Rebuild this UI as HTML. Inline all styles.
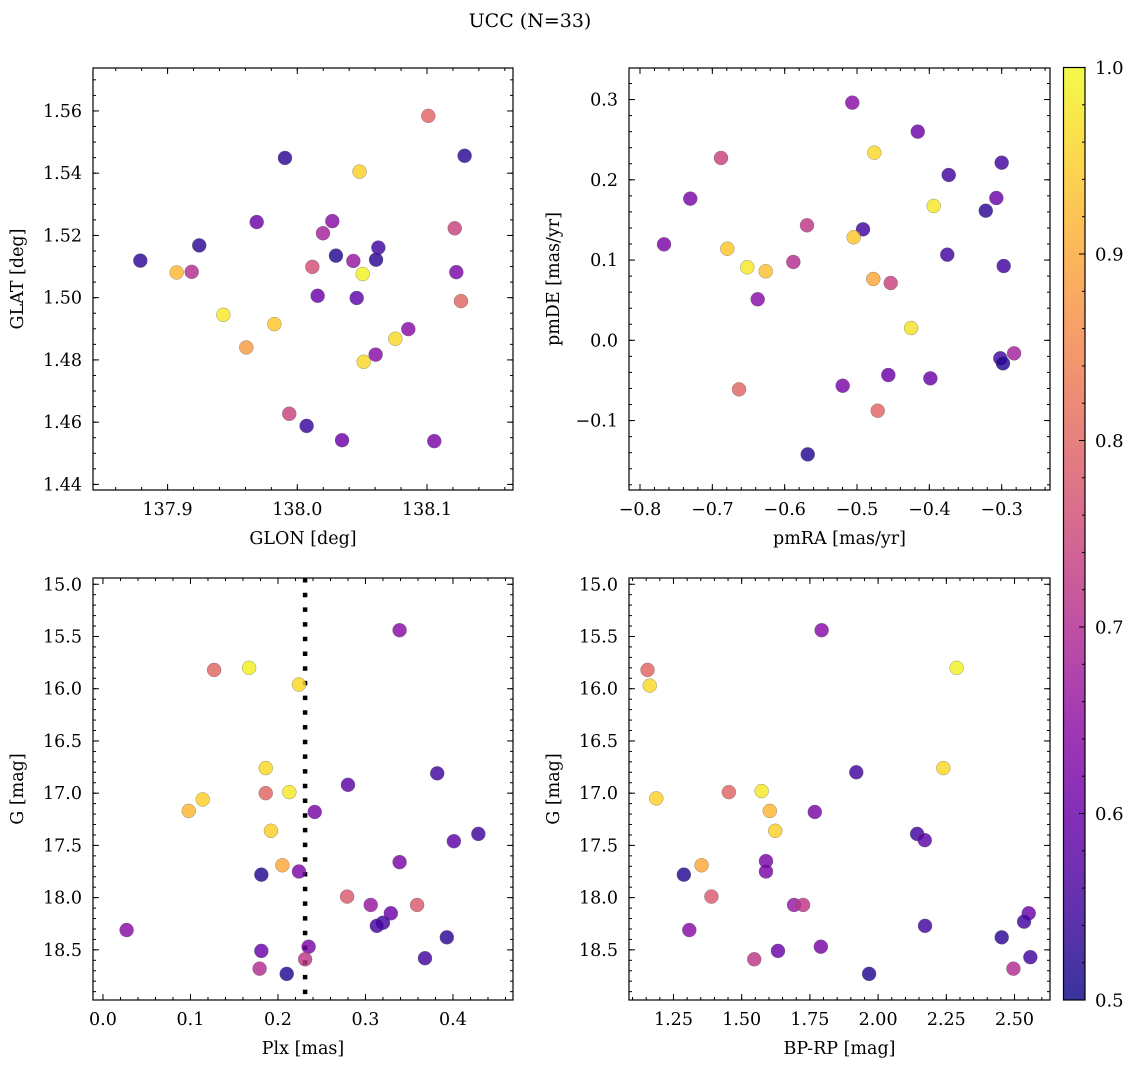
<!DOCTYPE html>
<html>
<head>
<meta charset="utf-8">
<style>
html,body{margin:0;padding:0;background:#fff;}
svg{display:block;font-family:"DejaVu Serif","Liberation Serif",serif;}
</style>
</head>
<body>
<svg id="fig" width="1135" height="1067" viewBox="0 0 1135 1067" xmlns="http://www.w3.org/2000/svg">
<defs>
<linearGradient id="plasma" x1="0" y1="1" x2="0" y2="0">
<stop offset="0" stop-color="#0d0887"/><stop offset="0.1" stop-color="#41049d"/>
<stop offset="0.2" stop-color="#6a00a8"/><stop offset="0.3" stop-color="#8f0da4"/>
<stop offset="0.4" stop-color="#b12a90"/><stop offset="0.5" stop-color="#cc4778"/>
<stop offset="0.6" stop-color="#e16462"/><stop offset="0.7" stop-color="#f2844b"/>
<stop offset="0.8" stop-color="#fca636"/><stop offset="0.9" stop-color="#fcce25"/>
<stop offset="1" stop-color="#f0f921"/>
</linearGradient>
</defs>
<text x="530" y="27" font-size="19" text-anchor="middle">UCC (N=33)</text>
</svg>
<script>
// Panel 1: GLON / GLAT
const glon = [138.101,138.129,137.9905,138.048,137.9687,138.027,138.0198,138.1214,137.9244,138.0625,137.879,138.0298,138.0432,138.0607,138.0116,137.907,137.9186,138.0504,138.1226,138.0157,138.0458,138.1262,137.943,137.9823,138.0856,138.0756,137.9607,138.0604,138.0512,137.9938,138.0072,138.0345,138.1056];
const glat = [1.5584,1.5456,1.5449,1.5405,1.5243,1.5246,1.5207,1.5223,1.5168,1.5161,1.5119,1.5135,1.5118,1.5122,1.5099,1.5081,1.5083,1.5076,1.5082,1.5006,1.4999,1.4989,1.4945,1.4915,1.4899,1.4868,1.4840,1.4817,1.4794,1.4627,1.4588,1.4542,1.4539];
const prob1 = [0.8,0.53,0.53,0.95,0.6,0.64,0.68,0.74,0.53,0.55,0.53,0.52,0.66,0.53,0.76,0.92,0.7,0.99,0.62,0.6,0.58,0.8,0.98,0.94,0.64,0.96,0.88,0.64,0.96,0.74,0.54,0.6,0.62];
// Panel 2: pmRA / pmDE
const pmra = [-0.5065,-0.416,-0.688,-0.4761,-0.3,-0.3732,-0.7305,-0.3074,-0.394,-0.322,-0.5691,-0.4917,-0.5046,-0.7668,-0.6793,-0.3752,-0.2972,-0.588,-0.6517,-0.6262,-0.4775,-0.4534,-0.6373,-0.4253,-0.2829,-0.3019,-0.2982,-0.4567,-0.3986,-0.5198,-0.6631,-0.4714,-0.5681];
const pmde = [0.2961,0.26,0.2272,0.2338,0.2213,0.206,0.1765,0.1773,0.1674,0.1615,0.1433,0.1383,0.1284,0.1196,0.1141,0.1067,0.0926,0.0976,0.091,0.086,0.0764,0.0714,0.0511,0.0153,-0.0162,-0.0224,-0.0287,-0.0432,-0.0474,-0.0566,-0.0611,-0.0877,-0.1421];
const prob2 = [0.64,0.6,0.74,0.96,0.55,0.55,0.62,0.6,0.98,0.53,0.72,0.55,0.94,0.62,0.94,0.55,0.55,0.7,0.98,0.93,0.9,0.74,0.64,0.97,0.68,0.55,0.52,0.6,0.6,0.62,0.8,0.8,0.52];
// Panel 3: Plx / G
const plx = [0.339,0.127,0.167,0.224,0.186,0.382,0.280,0.186,0.213,0.114,0.098,0.242,0.192,0.429,0.401,0.339,0.205,0.224,0.181,0.279,0.306,0.359,0.329,0.320,0.313,0.027,0.393,0.235,0.181,0.231,0.368,0.179,0.210];
const g3 = [15.44,15.82,15.80,15.96,16.76,16.81,16.92,17.00,16.99,17.06,17.17,17.18,17.36,17.39,17.46,17.66,17.69,17.75,17.78,17.99,18.07,18.07,18.15,18.24,18.27,18.31,18.38,18.47,18.51,18.59,18.58,18.68,18.73];
const prob3 = [0.64,0.8,0.99,0.96,0.96,0.55,0.58,0.8,0.98,0.95,0.92,0.62,0.95,0.55,0.58,0.62,0.9,0.62,0.52,0.78,0.66,0.78,0.6,0.55,0.55,0.64,0.53,0.62,0.6,0.72,0.55,0.7,0.52];
const plxLine = 0.231;
// Panel 4: BP-RP / G
const bprp = [1.793,1.155,2.288,1.163,2.239,1.920,1.573,1.453,1.187,1.603,1.768,1.623,2.143,2.171,1.589,1.353,1.589,1.288,1.389,1.692,1.725,2.552,2.535,2.172,1.308,2.453,1.790,1.633,1.546,2.558,2.496,1.967];
const g4 = [15.44,15.82,15.80,15.97,16.76,16.80,16.98,16.99,17.05,17.17,17.18,17.36,17.39,17.45,17.65,17.69,17.75,17.78,17.99,18.07,18.07,18.15,18.23,18.27,18.31,18.38,18.47,18.51,18.59,18.57,18.68,18.73];
const prob4 = [0.64,0.8,0.99,0.96,0.96,0.55,0.98,0.8,0.95,0.92,0.62,0.95,0.55,0.58,0.62,0.9,0.62,0.52,0.78,0.66,0.72,0.6,0.55,0.55,0.64,0.53,0.62,0.6,0.72,0.55,0.7,0.52];
// Tick labels
const ticks1x = [137.9,138.0,138.1], ticks1xL = ["137.9","138.0","138.1"];
const ticks1y = [1.44,1.46,1.48,1.50,1.52,1.54,1.56], ticks1yL = ["1.44","1.46","1.48","1.50","1.52","1.54","1.56"];
const ticks2x = [-0.8,-0.7,-0.6,-0.5,-0.4,-0.3], ticks2xL = ["\u22120.8","\u22120.7","\u22120.6","\u22120.5","\u22120.4","\u22120.3"];
const ticks2y = [-0.1,0.0,0.1,0.2,0.3], ticks2yL = ["\u22120.1","0.0","0.1","0.2","0.3"];
const ticks3x = [0.0,0.1,0.2,0.3,0.4], ticks3xL = ["0.0","0.1","0.2","0.3","0.4"];
const ticksGy = [15.0,15.5,16.0,16.5,17.0,17.5,18.0,18.5], ticksGyL = ["15.0","15.5","16.0","16.5","17.0","17.5","18.0","18.5"];
const ticks4x = [1.25,1.5,1.75,2.0,2.25,2.5], ticks4xL = ["1.25","1.50","1.75","2.00","2.25","2.50"];
const ticksC = [0.5,0.6,0.7,0.8,0.9,1.0], ticksCL = ["0.5","0.6","0.7","0.8","0.9","1.0"];

const NS = "http://www.w3.org/2000/svg";
const svg = document.getElementById("fig");
function mk(tag, attrs, parent){
  const e = document.createElementNS(NS, tag);
  for (const k in attrs) e.setAttribute(k, attrs[k]);
  (parent||svg).appendChild(e);
  return e;
}
const stops = [[13,8,135],[65,4,157],[106,0,168],[143,13,164],[177,42,144],[204,71,120],[225,100,98],[242,132,75],[252,166,54],[252,206,37],[240,249,33]];
function plasma(p){
  let t = Math.max(0, Math.min(1, (p-0.5)/0.5))*10;
  const i = Math.min(9, Math.floor(t)), f = t - i;
  const a = stops[i], b = stops[i+1];
  return "rgb(" + [0,1,2].map(j => Math.round(a[j] + (b[j]-a[j])*f)).join(",") + ")";
}
function scale(d0, d1, r0, r1){ return v => r0 + (v-d0)/(d1-d0)*(r1-r0); }

function panel(cfg){
  const g = mk("g", {});
  
  
  const X = scale(cfg.xd[0], cfg.xd[1], cfg.x0, cfg.x1);
  const Y = scale(cfg.yd[0], cfg.yd[1], cfg.y1, cfg.y0);
  const tk = mk("g", {stroke:"#000","stroke-width":"1"}, g);
  
  
  const lo = Math.ceil(Math.min(cfg.xd[0],cfg.xd[1])/cfg.xminor - 1e-6), hi = Math.floor(Math.max(cfg.xd[0],cfg.xd[1])/cfg.xminor + 1e-6);
  for (let k = lo; k <= hi; k++){
    const px = X(k*cfg.xminor);
    if (px < cfg.x0+0.5 || px > cfg.x1-0.5) continue;
    mk("line",{x1:px,x2:px,y1:cfg.y1,y2:cfg.y1-3},tk); mk("line",{x1:px,x2:px,y1:cfg.y0,y2:cfg.y0+3},tk);
  }
  const ylo = Math.ceil(Math.min(cfg.yd[0],cfg.yd[1])/cfg.yminor - 1e-6), yhi = Math.floor(Math.max(cfg.yd[0],cfg.yd[1])/cfg.yminor + 1e-6);
  for (let k = ylo; k <= yhi; k++){
    const py = Y(k*cfg.yminor);
    if (py < cfg.y0+0.5 || py > cfg.y1-0.5) continue;
    mk("line",{x1:cfg.x0,x2:cfg.x0+3,y1:py,y2:py},tk); mk("line",{x1:cfg.x1,x2:cfg.x1-3,y1:py,y2:py},tk);
  }
  cfg.xt.forEach((v,i) => {
    const px = X(v);
    mk("line",{x1:px,x2:px,y1:cfg.y1,y2:cfg.y1-6},tk); mk("line",{x1:px,x2:px,y1:cfg.y0,y2:cfg.y0+6},tk);
    const t = mk("text",{x:px,y:cfg.y1+25,"font-size":"17.5","text-anchor":"middle"},g);
    t.textContent = cfg.xtl[i];
    
    
  });
  cfg.yt.forEach((v,i) => {
    const py = Y(v);
    mk("line",{x1:cfg.x0,x2:cfg.x0+6,y1:py,y2:py},tk); mk("line",{x1:cfg.x1,x2:cfg.x1-6,y1:py,y2:py},tk);
    const t = mk("text",{x:cfg.x0-11,y:py+6,"font-size":"17.5","text-anchor":"end"},g);
    t.textContent = cfg.ytl[i];
    
    
  });
  if (cfg.vline !== undefined){
    const l = mk("line",{x1:X(cfg.vline),x2:X(cfg.vline),y1:cfg.y0,y2:cfg.y1,stroke:"#000","stroke-width":"4.5","stroke-dasharray":"4.5,10.2"},g);
    
    
  }
  const pg = mk("g", {}, g);
  
  
  for (let i = 0; i < cfg.xs.length; i++){
    const c = mk("circle",{cx:X(cfg.xs[i]),cy:Y(cfg.ys[i]),r:"7",fill:plasma(cfg.ps[i]),"fill-opacity":"0.82",stroke:"rgba(90,90,90,0.6)","stroke-width":"0.5"},pg);
    
    
  }
  const fr = mk("rect",{x:cfg.x0,y:cfg.y0,width:cfg.x1-cfg.x0,height:cfg.y1-cfg.y0,fill:"none",stroke:"#000","stroke-width":"1.2"},g);
  
  
  const xt = mk("text",{x:(cfg.x0+cfg.x1)/2,y:cfg.y1+54,"font-size":"17.5","text-anchor":"middle"},g);
  xt.textContent = cfg.xlabel;
  
  
  const yx = cfg.x0 - 70, yc = (cfg.y0+cfg.y1)/2;
  const yt = mk("text",{x:yx,y:yc,"font-size":"17.5","text-anchor":"middle",transform:"rotate(-90 "+yx+" "+yc+")"},g);
  yt.textContent = cfg.ylabel;
  
  
}

panel({name:"glon-glat-panel",x0:93,x1:513,y0:68,y1:490,xd:[137.8425,138.1663],yd:[1.4382,1.5738],xminor:0.02,yminor:0.005,xt:ticks1x,xtl:ticks1xL,yt:ticks1y,ytl:ticks1yL,xs:glon,ys:glat,ps:prob1,xlabel:"GLON [deg]",ylabel:"GLAT [deg]"});
panel({name:"pm-panel",x0:629,x1:1050,y0:68,y1:490,xd:[-0.8152,-0.2332],yd:[-0.1865,0.3393],xminor:0.02,yminor:0.02,xt:ticks2x,xtl:ticks2xL,yt:ticks2y,ytl:ticks2yL,xs:pmra,ys:pmde,ps:prob2,xlabel:"pmRA [mas/yr]",ylabel:"pmDE [mas/yr]"});
panel({name:"plx-g-panel",x0:93,x1:513,y0:578,y1:1000,xd:[-0.0114,0.4686],yd:[18.98,14.94],xminor:0.02,yminor:0.1,xt:ticks3x,xtl:ticks3xL,yt:ticksGy,ytl:ticksGyL,xs:plx,ys:g3,ps:prob3,xlabel:"Plx [mas]",ylabel:"G [mag]",vline:plxLine});
panel({name:"cmd-panel",x0:629,x1:1050,y0:578,y1:1000,xd:[1.087,2.630],yd:[18.98,14.94],xminor:0.05,yminor:0.1,xt:ticks4x,xtl:ticks4xL,yt:ticksGy,ytl:ticksGyL,xs:bprp,ys:g4,ps:prob4,xlabel:"BP-RP [mag]",ylabel:"G [mag]"});

const cb = mk("g", {});


const CX0 = 1063.5, CX1 = 1085, CY0 = 67.5, CY1 = 1000;
const CY = scale(0.5, 1.0, CY1, CY0);
mk("rect",{x:CX0,y:CY0,width:CX1-CX0,height:CY1-CY0,fill:"url(#plasma)","fill-opacity":"0.82"},cb);
for (let k = 25; k <= 50; k++){
  const v = k*0.02, py = CY(v);
  mk("line",{x1:CX1,x2:CX1-3,y1:py,y2:py,stroke:"#000","stroke-width":"1"},cb);
}
ticksC.forEach((v,i) => {
  const py = CY(v);
  mk("line",{x1:CX1,x2:CX1-6,y1:py,y2:py,stroke:"#000","stroke-width":"1"},cb);
  const t = mk("text",{x:CX1+10,y:py+6.5,"font-size":"18","text-anchor":"start"},cb);
  t.textContent = ticksCL[i];
  
  
});
mk("rect",{x:CX0,y:CY0,width:CX1-CX0,height:CY1-CY0,fill:"none",stroke:"#000","stroke-width":"1.2"},cb);
</script>
</body>
</html>
